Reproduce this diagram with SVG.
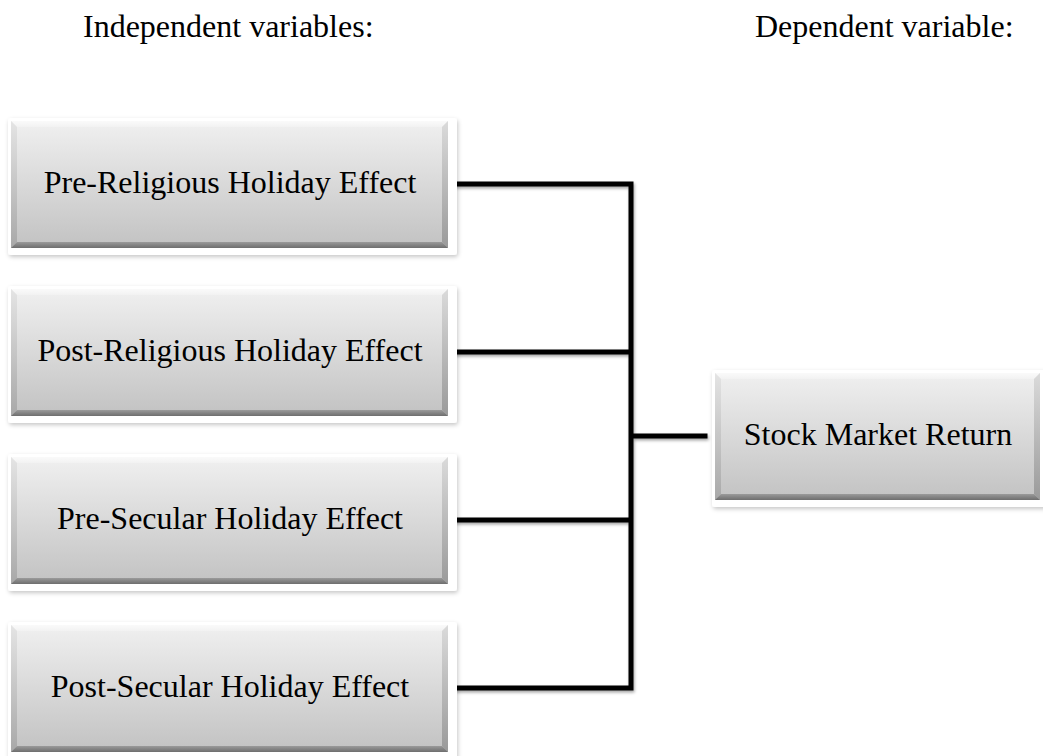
<svg xmlns="http://www.w3.org/2000/svg" width="1043" height="756" viewBox="0 0 1043 756">
<style>
text{font-family:"Liberation Serif","Times New Roman",serif;font-size:32px;fill:#000}
.lbl{text-anchor:middle}
.halo{fill:#fff;filter:url(#sh)}
.face{fill:url(#gFace)}
.bt{fill:url(#gTop)}
.bl{fill:url(#gLeft)}
.br{fill:url(#gRight)}
.bb{fill:url(#gBot)}
.wire{fill:none;stroke:#000;stroke-width:5;stroke-linecap:square;stroke-linejoin:miter}
</style>
<defs>
<filter id="sh" x="-10%" y="-20%" width="120%" height="140%">
<feDropShadow dx="1" dy="2" stdDeviation="2" flood-color="#000" flood-opacity="0.22"/>
</filter>
<filter id="lsh" x="-10%" y="-10%" width="120%" height="120%">
<feDropShadow dx="1" dy="2" stdDeviation="1.5" flood-color="#000" flood-opacity="0.35"/>
</filter>
<linearGradient id="gFace" x1="0" y1="0" x2="0" y2="1">
<stop offset="0" stop-color="#f0f0f0"/><stop offset="1" stop-color="#c2c2c2"/>
</linearGradient>
<linearGradient id="gTop" x1="0" y1="0" x2="0" y2="1">
<stop offset="0" stop-color="#fafafa"/><stop offset="1" stop-color="#f2f2f2"/>
</linearGradient>
<linearGradient id="gLeft" x1="0" y1="0" x2="0" y2="1">
<stop offset="0" stop-color="#e4e4e4"/><stop offset="1" stop-color="#a8a8a8"/>
</linearGradient>
<linearGradient id="gRight" x1="0" y1="0" x2="0" y2="1">
<stop offset="0" stop-color="#dadada"/><stop offset="1" stop-color="#9a9a9a"/>
</linearGradient>
<linearGradient id="gBot" x1="0" y1="0" x2="0" y2="1">
<stop offset="0" stop-color="#9a9a9a"/><stop offset="1" stop-color="#6e6e6e"/>
</linearGradient>
</defs>
<rect width="1043" height="756" fill="#fff"/>
<text id="hdr-ind" x="83" y="37">Independent variables:</text>
<text id="hdr-dep" x="755" y="37">Dependent variable:</text>

<g id="connectors" filter="url(#lsh)">
<path class="wire" d="M456 184H631M456 352H631M456 520H631M456 688H631M631 184V688M631 436H705"/>
</g>

<g id="node-pre-religious">
<rect class="halo" x="8" y="118" width="449" height="137" rx="3"/>
<rect class="face" x="11" y="121" width="437" height="127"/>
<polygon class="bt" points="11,121 448,121 442,127 17,127"/>
<polygon class="bl" points="11,121 17,127 17,242 11,248"/>
<polygon class="br" points="448,121 448,248 442,242 442,127"/>
<polygon class="bb" points="11,248 17,242 442,242 448,248"/>
<text class="lbl" x="230" y="193">Pre-Religious Holiday Effect</text>
</g>

<g id="node-post-religious">
<rect class="halo" x="8" y="286" width="449" height="137" rx="3"/>
<rect class="face" x="11" y="289" width="437" height="127"/>
<polygon class="bt" points="11,289 448,289 442,295 17,295"/>
<polygon class="bl" points="11,289 17,295 17,410 11,416"/>
<polygon class="br" points="448,289 448,416 442,410 442,295"/>
<polygon class="bb" points="11,416 17,410 442,410 448,416"/>
<text class="lbl" x="230" y="361">Post-Religious Holiday Effect</text>
</g>

<g id="node-pre-secular">
<rect class="halo" x="8" y="454" width="449" height="137" rx="3"/>
<rect class="face" x="11" y="457" width="437" height="127"/>
<polygon class="bt" points="11,457 448,457 442,463 17,463"/>
<polygon class="bl" points="11,457 17,463 17,578 11,584"/>
<polygon class="br" points="448,457 448,584 442,578 442,463"/>
<polygon class="bb" points="11,584 17,578 442,578 448,584"/>
<text class="lbl" x="230" y="529">Pre-Secular Holiday Effect</text>
</g>

<g id="node-post-secular">
<rect class="halo" x="8" y="622" width="449" height="137" rx="3"/>
<rect class="face" x="11" y="625" width="437" height="127"/>
<polygon class="bt" points="11,625 448,625 442,631 17,631"/>
<polygon class="bl" points="11,625 17,631 17,746 11,752"/>
<polygon class="br" points="448,625 448,752 442,746 442,631"/>
<polygon class="bb" points="11,752 17,746 442,746 448,752"/>
<text class="lbl" x="230" y="697">Post-Secular Holiday Effect</text>
</g>

<g id="node-stock-market-return">
<rect class="halo" x="712" y="370" width="337" height="137" rx="3"/>
<rect class="face" x="715" y="373" width="325" height="127"/>
<polygon class="bt" points="715,373 1040,373 1034,379 721,379"/>
<polygon class="bl" points="715,373 721,379 721,494 715,500"/>
<polygon class="br" points="1040,373 1040,500 1034,494 1034,379"/>
<polygon class="bb" points="715,500 721,494 1034,494 1040,500"/>
<text class="lbl" x="878" y="445">Stock Market Return</text>
</g>
</svg>
